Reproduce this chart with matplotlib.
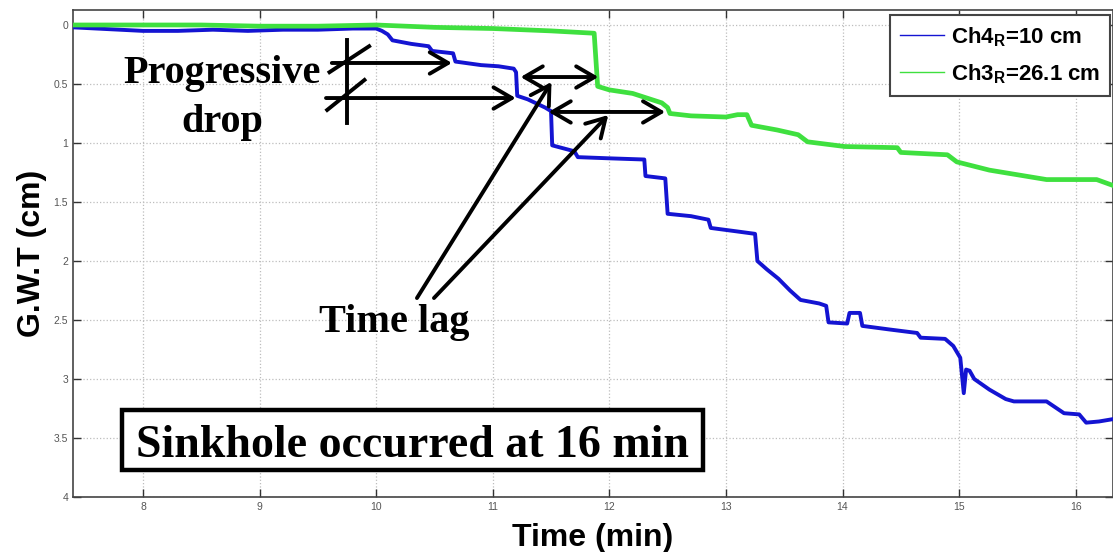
import matplotlib
matplotlib.use("Agg")
import matplotlib.pyplot as plt
from matplotlib.lines import Line2D
from matplotlib.patches import Rectangle

plt.rcParams['font.family'] = ['Liberation Sans', 'DejaVu Sans']
plt.rcParams['mathtext.fontset'] = 'custom'
plt.rcParams['mathtext.rm'] = 'Liberation Sans:bold'
plt.rcParams['mathtext.bf'] = 'Liberation Sans:bold'

# Ch4 (R = 10 cm) groundwater table drop, time in min
t_ch4 = [7.40, 7.60, 7.80, 8.00, 8.30, 8.60, 8.90, 9.20, 9.50, 9.80, 10.00,
         10.05, 10.10, 10.14, 10.30, 10.45, 10.48, 10.66, 10.68, 10.90, 11.05,
         11.18, 11.20, 11.21, 11.30, 11.45, 11.50, 11.51, 11.70, 11.73, 12.00,
         12.30, 12.31, 12.48, 12.50, 12.70, 12.85, 12.87, 13.10, 13.25, 13.27,
         13.35, 13.45, 13.55, 13.64, 13.80, 13.86, 13.88, 14.04, 14.06, 14.15,
         14.17, 14.40, 14.64, 14.67, 14.88, 14.95, 15.01, 15.04, 15.06, 15.09,
         15.13, 15.26, 15.40, 15.47, 15.75, 15.90, 16.03, 16.09, 16.20, 16.32]
gwt_ch4 = [0.02, 0.03, 0.04, 0.05, 0.05, 0.04, 0.05, 0.04, 0.04, 0.03, 0.03,
           0.05, 0.08, 0.13, 0.16, 0.18, 0.22, 0.24, 0.31, 0.34, 0.35,
           0.37, 0.40, 0.60, 0.63, 0.70, 0.73, 1.02, 1.07, 1.12, 1.13,
           1.14, 1.28, 1.30, 1.60, 1.62, 1.65, 1.72, 1.75, 1.77, 2.00,
           2.07, 2.15, 2.25, 2.33, 2.36, 2.38, 2.52, 2.53, 2.44, 2.44,
           2.55, 2.58, 2.61, 2.65, 2.66, 2.72, 2.82, 3.12, 2.92, 2.93,
           3.00, 3.09, 3.17, 3.19, 3.19, 3.29, 3.30, 3.37, 3.36, 3.34]

# Ch3 (R = 26.1 cm)
t_ch3 = [7.40, 8.00, 8.50, 9.00, 9.50, 10.00, 10.50, 11.00, 11.50, 11.87,
         11.90, 12.00, 12.20, 12.45, 12.50, 12.52, 12.70, 13.00, 13.10, 13.18,
         13.22, 13.44, 13.62, 13.70, 14.02, 14.47, 14.50, 14.90, 14.98, 15.26,
         15.75, 16.18, 16.32]
gwt_ch3 = [0.00, 0.00, 0.00, 0.01, 0.01, 0.00, 0.02, 0.03, 0.05, 0.07,
           0.52, 0.55, 0.58, 0.66, 0.70, 0.75, 0.77, 0.78, 0.76, 0.76,
           0.85, 0.89, 0.93, 0.99, 1.03, 1.04, 1.08, 1.10, 1.16, 1.23,
           1.31, 1.31, 1.36]

x_ticks = [8, 9, 10, 11, 12, 13, 14, 15, 16]
y_ticks = [0, 0.5, 1, 1.5, 2, 2.5, 3, 3.5, 4]
y_labels = ['0', '0.5', '1', '1.5', '2', '2.5', '3', '3.5', '4']

blue = '#1414d2'
green = '#3fe03f'

fig = plt.figure(figsize=(11.13, 5.52), dpi=100)
ax = fig.add_axes([73 / 1113, 1 - 497 / 552, 1040 / 1113, 487 / 552])

ax.plot(t_ch4, gwt_ch4, color=blue, lw=2.8, zorder=3)
ax.plot(t_ch3, gwt_ch3, color=green, lw=3.4, zorder=3)

ax.set_xlim(7.40, 16.32)
ax.set_ylim(4, -0.127)
ax.set_xticks(x_ticks)
ax.set_yticks(y_ticks)
ax.set_yticklabels(y_labels)
ax.tick_params(direction='in', length=6, width=1, colors='#333333',
               labelcolor='#555555', labelsize=7.5, top=True, right=True)
ax.grid(True, linestyle=':', color='#bdbdbd', lw=0.9)
for s in ax.spines.values():
    s.set_color('#444444')
    s.set_linewidth(1.2)

ax.set_xlabel('Time (min)', fontsize=23, fontweight='bold', labelpad=8)
ax.set_ylabel('G.W.T (cm)', fontsize=23, fontweight='bold', labelpad=5)

# legend with thin sample lines
handles = [Line2D([], [], color=blue, lw=1),
           Line2D([], [], color=green, lw=1)]
leg = ax.legend(handles, [r'Ch4$_\mathbf{R}$=10 cm', r'Ch3$_\mathbf{R}$=26.1 cm'],
                loc='upper right', bbox_to_anchor=(1110 / 1113, 1 - 15 / 552),
                bbox_transform=fig.transFigure, borderaxespad=0,
                fancybox=False, framealpha=1, edgecolor='#444444',
                handlelength=2.0, handletextpad=0.3, borderpad=0.45,
                labelspacing=0.6, prop={'weight': 'bold', 'size': 16})
leg.get_frame().set_linewidth(1.5)

serif = {'family': ['Liberation Serif', 'DejaVu Serif'], 'weight': 'bold'}
ap = dict(arrowstyle='->,head_length=0.6,head_width=0.35', lw=2.8,
          color='black', shrinkA=0, shrinkB=0, mutation_scale=22)
ap2 = dict(ap, arrowstyle='<->,head_length=0.6,head_width=0.35')

# progressive drop marks
ax.text(8.68, 0.49, 'Progressive', fontdict=serif, fontsize=29,
        ha='center', va='baseline')
ax.text(8.68, 0.907, 'drop', fontdict=serif, fontsize=29,
        ha='center', va='baseline')
ax.plot([9.752, 9.752], [0.127, 0.83], color='black', lw=2.8)
ax.plot([9.60, 9.94], [0.40, 0.18], color='black', lw=2.8)
ax.plot([9.58, 9.90], [0.72, 0.466], color='black', lw=2.8)
ax.annotate('', xy=(10.65, 0.322), xytext=(9.62, 0.322), arrowprops=ap)
ax.annotate('', xy=(11.197, 0.619), xytext=(9.57, 0.619), arrowprops=ap)

# time lag
ax.annotate('', xy=(11.906, 0.441), xytext=(11.239, 0.441), arrowprops=ap2)
ax.annotate('', xy=(12.479, 0.737), xytext=(11.479, 0.737), arrowprops=ap2)
ax.annotate('', xy=(11.504, 0.483), xytext=(10.35, 2.314), arrowprops=ap)
ax.annotate('', xy=(11.991, 0.763), xytext=(10.496, 2.314), arrowprops=ap)
ax.text(10.154, 2.60, 'Time lag', fontdict=serif, fontsize=29,
        ha='center', va='baseline')

# sinkhole note
ax.add_patch(Rectangle((7.82, 3.263), 4.98, 0.508, fc='white', ec='black',
                       lw=3.2, zorder=4))
ax.text(10.316, 3.661, 'Sinkhole occurred at 16 min', fontdict=serif,
        fontsize=33, ha='center', va='baseline', zorder=5)

fig.savefig('out.png', dpi=100)
